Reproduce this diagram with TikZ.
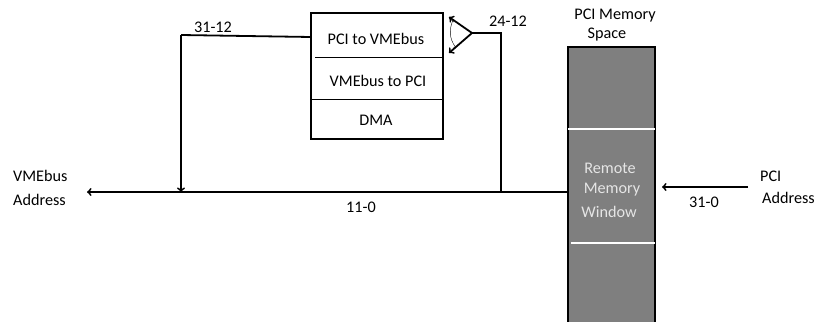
\documentclass[tikz,border=0pt]{standalone}
\usepackage{fontspec}
\setmainfont{Carlito}
\usetikzlibrary{positioning}
\tikzset{
  wire/.style={line width=1.8pt},
  thinrule/.style={line width=0.9pt},
  lbl/.style={font=\fontsize{16.2}{19}\selectfont,inner sep=0pt,align=center},
  memlbl/.style={lbl,text=white!90!black,align=center}
}
\definecolor{memgray}{RGB}{127,127,127}
\begin{document}
\begin{tikzpicture}[x=1pt,y=-1pt]
\useasboundingbox (0,0) rectangle (814,322);

% Translation registers
\node[draw,line width=1.8pt,minimum width=132pt,minimum height=126pt,inner sep=0pt] (regs) at (377,76) {};
\node[lbl] (pcivme) at (376,39) {PCI to VMEbus};
\node[lbl] (vmepci) at (378,81) {VMEbus to PCI};
\node[lbl] (dma) at (376,120) {DMA};
\coordinate (divA) at (315,57.5);
\coordinate (divAr) at (443,57.5);
\coordinate (divB) at (312,99);
\coordinate (divBr) at (442,99);
\draw[thinrule] (divA) -- (divAr);
\draw[thinrule] (divB) -- (divBr);

% PCI memory column
\fill[memgray] (568,47) rectangle (655,322);
\draw[wire] (567.1,47) -- (655.9,47);
\draw[wire] (568,47) -- (568,322);
\draw[wire] (655,47) -- (655,322);
\draw[white,line width=1.3pt] (568,129) -- (655,129);
\draw[white,line width=1.3pt] (571,243) -- (655,243);
\coordinate (memleft) at (567,192);
\coordinate (memright) at (662,187);
\node[memlbl] (remote) at (610,168) {Remote};
\node[memlbl] (memory) at (612,190) {Memory};
\node[memlbl] (window) at (609,212) {Window};
\node[lbl] (spaceA) at (615,16) {PCI Memory};
\node[lbl] (spaceB) at (607,35) {Space};

% Address labels
\node[lbl,anchor=west] (vmeaddrA) at (13,176) {VMEbus};
\node[lbl,anchor=west] (vmeaddrB) at (13,200) {Address};
\node[lbl,anchor=west] (pciA) at (760,176) {PCI};
\node[lbl,anchor=west] (pciB) at (762,198) {Address};

% Bus
\coordinate (busend) at (87,192);
\coordinate (tapL) at (181,192);
\coordinate (tapR) at (501,192);
\coordinate (pciend) at (748,187);
\draw[wire,->] (memleft) -- (busend);
\draw[wire,->] (pciend) -- (memright);

% Upper address bits
\coordinate (cornerL) at (181,35);
\coordinate (regsin) at (311,37);
\coordinate (cornerR) at (501,33);
\coordinate (apex) at (472,33);
\coordinate (armU) at (449,17);
\coordinate (armD) at (449,53);
\draw[wire] (regsin) -- (cornerL);
\draw[wire,->] (cornerL) -- (tapL);
\draw[wire] (tapR) -- (cornerR) -- (apex);
\draw[wire,->] (apex) -- (armU);
\draw[wire,->] (apex) -- (armD);
\draw[<->,thin] (453,20) .. controls (449,30) and (449,38) .. (456,48);

% Bit ranges
\node[lbl] (bitsA) at (213,27) {31-12};
\node[lbl] (bitsB) at (508,21) {24-12};
\node[lbl] (bitsC) at (361,207) {11-0};
\node[lbl] (bitsD) at (704,202) {31-0};

\end{tikzpicture}
\end{document}
